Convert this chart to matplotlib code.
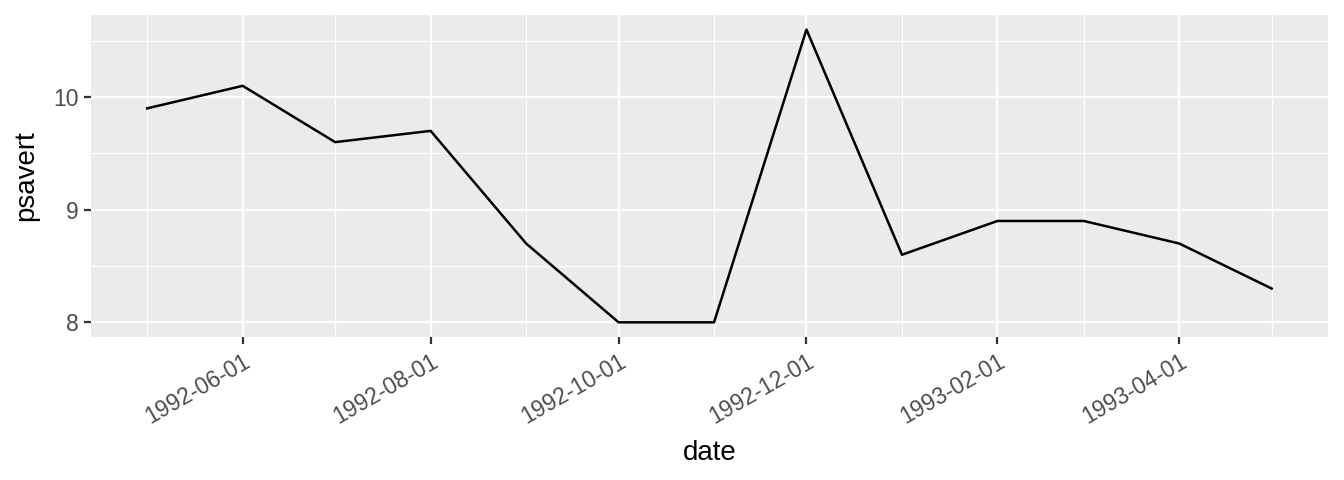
import numpy as np
import pandas as pd
import matplotlib
matplotlib.use('Agg')
import matplotlib.pyplot as plt
import matplotlib.dates as mdates

# monthly personal savings rate, May 1992 - May 1993
dates = pd.date_range('1992-05-01', '1993-05-01', freq='MS')
psavert = [9.9, 10.1, 9.6, 9.7, 8.7, 8.0, 8.0, 10.6, 8.6, 8.9, 8.9, 8.7, 8.3]
major_ticks = pd.to_datetime(['1992-06-01', '1992-08-01', '1992-10-01',
                              '1992-12-01', '1993-02-01', '1993-04-01'])
minor_ticks = pd.to_datetime(['1992-05-01', '1992-07-01', '1992-09-01', '1992-11-01',
                              '1993-01-01', '1993-03-01', '1993-05-01'])
y_major = [8, 9, 10]
y_minor = [8.5, 9.5, 10.5]

plt.rcParams['font.family'] = ['Liberation Sans', 'DejaVu Sans']

fig = plt.figure(figsize=(13.44, 4.8), dpi=100)
ax = fig.add_axes([0.0677, 0.298, 0.9203, 0.671])
ax.set_facecolor('#EBEBEB')
for s in ax.spines.values():
    s.set_visible(False)

ax.plot(dates, psavert, color='black', lw=1.8, zorder=3)

# ggplot-style expansion (5% each side)
x0, x1 = mdates.date2num(dates[0]), mdates.date2num(dates[-1])
dx = (x1 - x0) * 0.05
ax.set_xlim(x0 - dx, x1 + dx)
ymin, ymax = min(psavert), max(psavert)
dy = (ymax - ymin) * 0.05
ax.set_ylim(ymin - dy, ymax + dy)

ax.set_xticks(major_ticks)
ax.set_xticklabels([d.strftime('%Y-%m-%d') for d in major_ticks],
                   rotation=30, ha='right', rotation_mode='anchor')
ax.set_xticks(minor_ticks, minor=True)
ax.set_yticks(y_major)
ax.set_yticks(y_minor, minor=True)

ax.grid(which='major', color='white', lw=1.6)
ax.grid(which='minor', color='white', lw=0.8)
ax.set_axisbelow(True)

ax.tick_params(which='major', length=5, width=1.6, color='#333333',
               labelsize=16.5, labelcolor='#4D4D4D', pad=4)
ax.tick_params(which='minor', length=0)

ax.set_xlabel('date', fontsize=20, labelpad=9)
ax.set_ylabel('psavert', fontsize=20, labelpad=10)

fig.savefig('out.png', dpi=100)
